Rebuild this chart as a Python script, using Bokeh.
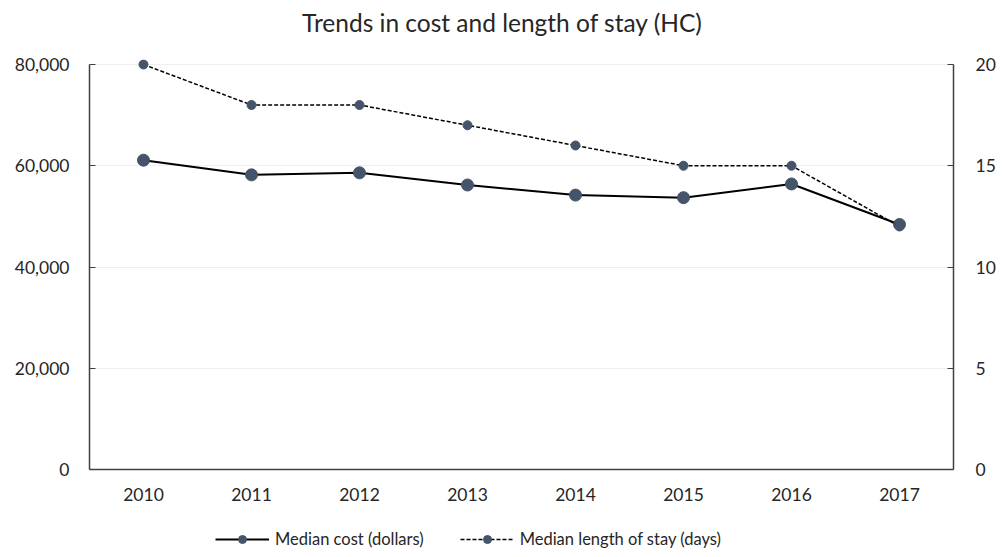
from bokeh.plotting import figure
from bokeh.layouts import column
from bokeh.models import (ColumnDataSource, LinearAxis, Range1d, Legend, LegendItem,
                          NumeralTickFormatter, FixedTicker, Label)
from bokeh.embed import file_html
from bokeh.resources import INLINE

# Data
years = ["2010", "2011", "2012", "2013", "2014", "2015", "2016", "2017"]
median_cost = [61100, 58200, 58600, 56200, 54200, 53700, 56400, 48400]
median_los = [20, 18, 18, 17, 16, 15, 15, 12]
cost_ticks = [0, 20000, 40000, 60000, 80000]
los_ticks = [0, 5, 10, 15, 20]
title_text = "Trends in cost and length of stay (HC)"
cost_label = "Median cost (dollars)"
los_label = "Median length of stay (days)"

FONT = "Lato"
TEXT = "#262626"
AXIS = "#404040"
MARK = "#44546A"
TICK_SIZE = "17.5px"

W = 1003
TITLE_H, MAIN_H, KEY_H = 40, 477, 40
FRAME_L, FRAME_R = 89, 953

# headroom above the top tick so the markers at the top are not clipped
HEAD = 410 / 405

src = ColumnDataSource(dict(year=years, cost=median_cost, los=median_los))


def bare(fig):
    fig.axis.visible = False
    fig.grid.visible = False
    fig.outline_line_color = None
    fig.background_fill_color = "white"
    fig.border_fill_color = "white"


# ---- title strip
t = figure(width=W, height=TITLE_H, x_range=Range1d(FRAME_L, FRAME_R),
           y_range=Range1d(TITLE_H, 0), min_border=0,
           output_backend="svg", toolbar_location=None)
bare(t)
t.add_layout(Label(x=502, y=22, text=title_text, text_align="center",
                   text_baseline="middle", text_font=FONT, text_font_size="24.5px",
                   text_color=TEXT))

# ---- main chart
p = figure(
    x_range=years, y_range=Range1d(0, 80000 * HEAD),
    width=W, height=MAIN_H,
    min_border_left=FRAME_L, min_border_right=W - FRAME_R,
    min_border_top=19, min_border_bottom=48,
    output_backend="svg", toolbar_location=None,
)
p.extra_y_ranges = {"los": Range1d(0, 20 * HEAD)}
p.outline_line_color = None
p.background_fill_color = "white"
p.border_fill_color = "white"

# grid
p.xgrid.grid_line_color = None
p.ygrid.grid_line_color = "#efefef"
p.ygrid.grid_line_width = 1
p.ygrid.ticker = FixedTicker(ticks=cost_ticks)

# left axis (cost)
ly = p.yaxis[0]
ly.ticker = FixedTicker(ticks=cost_ticks)
ly.bounds = (0, 80000)
ly.formatter = NumeralTickFormatter(format="0,0")
ly.minor_tick_line_color = None
ly.major_tick_in = 6
ly.major_tick_out = 0
ly.major_tick_line_color = AXIS
ly.axis_line_color = AXIS
ly.axis_line_width = 1.5
ly.major_label_text_font = FONT
ly.major_label_text_font_size = TICK_SIZE
ly.major_label_text_color = TEXT
ly.major_label_standoff = 20

# right axis (length of stay)
ry = LinearAxis(y_range_name="los", ticker=FixedTicker(ticks=los_ticks), bounds=(0, 20))
ry.minor_tick_line_color = None
ry.major_tick_in = 6
ry.major_tick_out = 0
ry.major_tick_line_color = AXIS
ry.axis_line_color = AXIS
ry.axis_line_width = 1.5
ry.major_label_text_font = FONT
ry.major_label_text_font_size = TICK_SIZE
ry.major_label_text_color = TEXT
ry.major_label_standoff = 22
p.add_layout(ry, "right")

# bottom axis (years)
bx = p.xaxis[0]
bx.major_tick_line_color = None
bx.minor_tick_line_color = None
bx.axis_line_color = AXIS
bx.axis_line_width = 1.5
bx.major_label_text_font = FONT
bx.major_label_text_font_size = TICK_SIZE
bx.major_label_text_color = TEXT
bx.major_label_standoff = 12


def draw_series(fig):
    """Draw both series on fig; returns the renderers for a legend."""
    cl = fig.line("year", "cost", source=src, line_color="black", line_width=2)
    cp = fig.scatter("year", "cost", source=src, size=12, fill_color=MARK, line_color=MARK)
    sl = fig.line("year", "los", source=src, line_color="black", line_width=1.5,
                  line_dash="4 2", **extra(fig))
    sp = fig.scatter("year", "los", source=src, size=9, fill_color=MARK, line_color=MARK,
                     **extra(fig))
    return cl, cp, sl, sp


def extra(fig):
    return {"y_range_name": "los"} if "los" in fig.extra_y_ranges else {}


draw_series(p)

# ---- legend strip; its copies of the series sit outside its y-range,
# so only the legend keys are visible
k = figure(width=W, height=KEY_H, x_range=p.x_range, y_range=Range1d(-2, -1),
           min_border=0, output_backend="svg", toolbar_location=None)
bare(k)
k_cl, k_cp, k_sl, k_sp = draw_series(k)

legend = Legend(
    items=[
        LegendItem(label=cost_label, renderers=[k_cl, k_cp]),
        LegendItem(label=los_label, renderers=[k_sl, k_sp]),
    ],
    orientation="horizontal",
    location=(126, 8),
    glyph_width=54, glyph_height=20,
    label_standoff=6, spacing=36,
    padding=0, margin=0,
    border_line_color=None, background_fill_alpha=0,
    label_text_font=FONT, label_text_font_size="16.5px", label_text_color=TEXT,
)
k.add_layout(legend, "center")

layout = column(t, p, k, spacing=0)
open("out.html", "w").write(file_html(layout, INLINE))
